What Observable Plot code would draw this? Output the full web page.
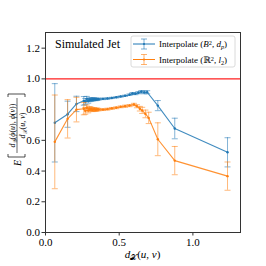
<!DOCTYPE html>
<html><head><meta charset="utf-8">
<script src="https://cdn.jsdelivr.net/npm/d3@7"></script>
<script src="https://cdn.jsdelivr.net/npm/@observablehq/plot@0.6"></script>
<style>
html,body{margin:0;padding:0;background:#fff;}
svg text{font-family:"Liberation Serif","DejaVu Serif",serif;}
</style></head>
<body>
<script>
// ---- data ----
const blueX = [0.063, 0.15, 0.21, 0.26, 0.36, 0.27, 0.35, 0.28, 0.34, 0.29, 0.33, 0.30, 0.32, 0.31, 0.39, 0.42, 0.45, 0.48, 0.51, 0.54, 0.57, 0.59, 0.61, 0.63, 0.65, 0.67, 0.69, 0.762, 0.877, 1.235];
const blueY = [0.714, 0.77, 0.837, 0.857, 0.868, 0.852, 0.867, 0.870, 0.866, 0.856, 0.868, 0.864, 0.866, 0.865, 0.870, 0.872, 0.876, 0.880, 0.885, 0.890, 0.897, 0.905, 0.903, 0.910, 0.916, 0.912, 0.913, 0.826, 0.677, 0.522];
const blueErr = [0.255, 0.085, 0.05, 0.028, 0.006, 0.02, 0.007, 0.016, 0.008, 0.014, 0.009, 0.012, 0.01, 0.011, 0.005, 0.005, 0.004, 0.004, 0.004, 0.004, 0.005, 0.006, 0.006, 0.007, 0.008, 0.009, 0.01, 0.033, 0.067, 0.095];

const orangeX = [0.063, 0.15, 0.21, 0.26, 0.36, 0.27, 0.35, 0.28, 0.34, 0.29, 0.33, 0.30, 0.32, 0.31, 0.39, 0.42, 0.45, 0.48, 0.51, 0.54, 0.57, 0.60, 0.62, 0.64, 0.656, 0.678, 0.70, 0.762, 0.877, 1.235];
const orangeY = [0.59, 0.74, 0.80, 0.806, 0.800, 0.792, 0.801, 0.812, 0.798, 0.795, 0.802, 0.806, 0.799, 0.803, 0.800, 0.803, 0.808, 0.812, 0.818, 0.822, 0.826, 0.833, 0.822, 0.806, 0.795, 0.772, 0.746, 0.607, 0.468, 0.367];
const orangeErr = [0.305, 0.125, 0.08, 0.04, 0.008, 0.022, 0.009, 0.018, 0.01, 0.016, 0.011, 0.014, 0.012, 0.013, 0.006, 0.006, 0.006, 0.006, 0.006, 0.007, 0.007, 0.008, 0.01, 0.015, 0.02, 0.025, 0.037, 0.107, 0.092, 0.092];

const seriesNames = ["Interpolate (B², d_p)", "Interpolate (ℝ², l_2)"];
const seriesColors = ["#1f77b4", "#ff7f0e"];
const xTicks = [0, 0.5, 1.0];
const yTicks = [0, 0.2, 0.4, 0.6, 0.8, 1.0, 1.2];
const refLine = [1.0];
const titleText = "Simulated Jet";

const series = [
  {name: seriesNames[0], color: seriesColors[0], x: blueX, y: blueY, err: blueErr},
  {name: seriesNames[1], color: seriesColors[1], x: orangeX, y: orangeY, err: orangeErr}
];
const tables = series.map(s => s.x.map((x, i) => ({x, y: s.y[i], lo: s.y[i] - s.err[i], hi: s.y[i] + s.err[i]})));

const cap = {draw(ctx) { ctx.moveTo(-3, 0); ctx.lineTo(3, 0); }};

const marks = [Plot.ruleY(refLine, {stroke: "#ff2020", strokeWidth: 1.3})];
series.forEach((s, k) => {
  const t = tables[k];
  marks.push(
    Plot.ruleX(t, {x: "x", y1: "lo", y2: "hi", stroke: s.color, strokeOpacity: 0.55, strokeWidth: 1}),
    Plot.dot(t, {x: "x", y: "lo", symbol: cap, r: 3, stroke: s.color, fill: "none", strokeOpacity: 0.55, strokeWidth: 1}),
    Plot.dot(t, {x: "x", y: "hi", symbol: cap, r: 3, stroke: s.color, fill: "none", strokeOpacity: 0.55, strokeWidth: 1}),
    Plot.line(t, {x: "x", y: "y", stroke: s.color, strokeWidth: 1.1, strokeOpacity: 0.85}),
    Plot.dot(t, {x: "x", y: "y", r: 1.2, fill: s.color, stroke: "none"})
  );
});
marks.push(
  Plot.axisX({ticks: xTicks, tickFormat: d3.format(".1f"), tickSize: 3.5, tickPadding: 2, label: null, stroke: "#333", fontSize: 11}),
  Plot.axisY({ticks: yTicks, tickFormat: d3.format(".1f"), tickSize: 3.5, tickPadding: 2, label: null, stroke: "#333", fontSize: 11}),
  Plot.frame({stroke: "#333", strokeWidth: 1})
);

const svg = Plot.plot({
  width: 266, height: 266,
  marginLeft: 45, marginRight: 26, marginTop: 32, marginBottom: 34,
  x: {domain: [0, 1.323]},
  y: {domain: [0, 1.302]},
  style: {fontFamily: "Liberation Serif, serif", fontSize: "11px", color: "#000", background: "#fff"},
  marks
});
document.body.appendChild(svg);

const g = d3.select(svg).append("g").attr("text-anchor", "start").attr("fill", "#000");
const serif = "Liberation Serif, DejaVu Serif, serif";

// title
g.append("text").attr("x", 55).attr("y", 48).attr("font-size", 12).attr("font-family", serif).text(titleText);

// legend
const lg = g.append("g");
lg.append("rect").attr("x", 131).attr("y", 36).attr("width", 104).attr("height", 31).attr("rx", 2)
  .attr("fill", "#fff").attr("fill-opacity", 0.85).attr("stroke", "#d0d0d0").attr("stroke-width", 0.8);
const rowsY = [44, 59.5];
function mathText(sel, parts, size) {
  parts.forEach(p => {
    const t = sel.append("tspan").text(p.t);
    if (p.i) t.attr("font-style", "italic");
    if (p.sub) t.attr("baseline-shift", "-25%").attr("font-size", size * 0.7);
    if (p.sup) t.attr("baseline-shift", "35%").attr("font-size", size * 0.7);
  });
}
const legendParts = [
  [{t: "Interpolate ("}, {t: "B", i: 1}, {t: "2", sup: 1}, {t: ", "}, {t: "d", i: 1}, {t: "p", i: 1, sub: 1}, {t: ")"}],
  [{t: "Interpolate ("}, {t: "ℝ"}, {t: "2", sup: 1}, {t: ", "}, {t: "l", i: 1}, {t: "2", sub: 1}, {t: ")"}]
];
series.forEach((s, k) => {
  const y = rowsY[k];
  lg.append("line").attr("x1", 133).attr("x2", 155).attr("y1", y).attr("y2", y).attr("stroke", s.color).attr("stroke-width", 1);
  lg.append("line").attr("x1", 144).attr("x2", 144).attr("y1", y - 5).attr("y2", y + 5).attr("stroke", s.color).attr("stroke-opacity", 0.6);
  lg.append("line").attr("x1", 141).attr("x2", 147).attr("y1", y - 5).attr("y2", y - 5).attr("stroke", s.color).attr("stroke-opacity", 0.6);
  lg.append("line").attr("x1", 141).attr("x2", 147).attr("y1", y + 5).attr("y2", y + 5).attr("stroke", s.color).attr("stroke-opacity", 0.6);
  lg.append("circle").attr("cx", 144).attr("cy", y).attr("r", 1.1).attr("fill", s.color);
  const tx = lg.append("text").attr("x", 159).attr("y", y + 3).attr("font-size", 9).attr("font-family", serif);
  mathText(tx, legendParts[k], 9);
});

// x label
const xl = g.append("text").attr("x", 142.5).attr("y", 258).attr("text-anchor", "middle").attr("font-size", 11).attr("font-family", serif);
mathText(xl, [{t: "d", i: 1}, {t: "𝒳", sub: 1}, {t: "(", }, {t: "u", i: 1}, {t: ", "}, {t: "v", i: 1}, {t: ")"}], 11);

// y label (rotated)
const yl = g.append("g").attr("transform", "translate(17,130) rotate(-90)");
yl.append("text").attr("x", -36).attr("y", 4).attr("font-size", 10).attr("font-style", "italic").attr("font-family", serif).text("E");
yl.append("path").attr("d", "M-24,-9 L-27,-9 L-27,8 L-24,8").attr("fill", "none").attr("stroke", "#000").attr("stroke-width", 0.7);
yl.append("path").attr("d", "M33,-9 L36,-9 L36,8 L33,8").attr("fill", "none").attr("stroke", "#000").attr("stroke-width", 0.7);
yl.append("line").attr("x1", -23).attr("x2", 32).attr("y1", 0).attr("y2", 0).attr("stroke", "#000").attr("stroke-width", 0.6);
const num = yl.append("text").attr("x", 4.5).attr("y", -2).attr("text-anchor", "middle").attr("font-size", 8).attr("font-family", serif);
mathText(num, [{t: "d", i: 1}, {t: "𝒴", sub: 1}, {t: "("}, {t: "ϕ", i: 1}, {t: "("}, {t: "u", i: 1}, {t: "), "}, {t: "ϕ", i: 1}, {t: "("}, {t: "v", i: 1}, {t: "))"}], 8);
const den = yl.append("text").attr("x", 4.5).attr("y", 7.5).attr("text-anchor", "middle").attr("font-size", 8).attr("font-family", serif);
mathText(den, [{t: "d", i: 1}, {t: "𝒳", sub: 1}, {t: "("}, {t: "u", i: 1}, {t: ", "}, {t: "v", i: 1}, {t: ")"}], 8);
</script>
</body></html>
